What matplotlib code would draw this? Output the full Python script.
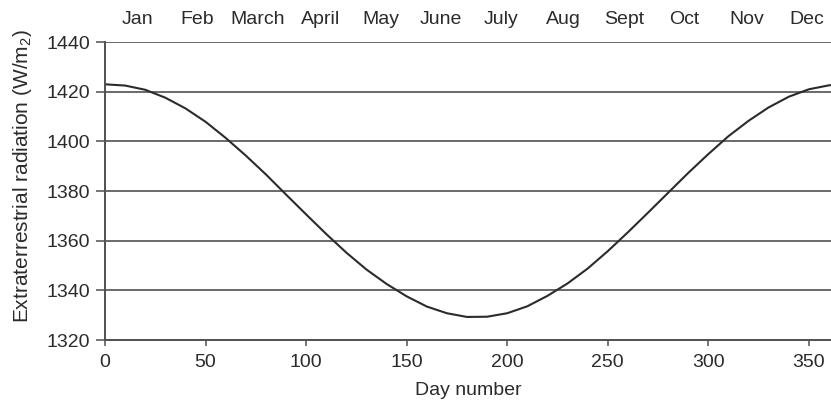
import matplotlib
matplotlib.use("Agg")
import matplotlib.pyplot as plt

plt.rcParams['font.family'] = ['Liberation Sans', 'DejaVu Sans']
plt.rcParams['mathtext.fontset'] = 'custom'
plt.rcParams['mathtext.rm'] = 'Liberation Sans'
plt.rcParams['mathtext.it'] = 'Liberation Sans'

# values
days = [0, 10, 20, 30, 40, 50, 60, 70, 80, 90, 100, 110, 120, 130, 140, 150,
        160, 170, 180, 190, 200, 210, 220, 230, 240, 250, 260, 270, 280, 290,
        300, 310, 320, 330, 340, 350, 360, 365]
radiation = [1423.0, 1422.5, 1420.8, 1417.6, 1413.3, 1407.9, 1401.4, 1394.3,
             1386.7, 1378.6, 1370.6, 1362.7, 1355.2, 1348.4, 1342.6, 1337.6,
             1333.5, 1330.8, 1329.3, 1329.4, 1330.8, 1333.6, 1337.8, 1342.8,
             1348.8, 1355.8, 1363.4, 1371.3, 1379.3, 1387.3, 1394.9, 1402.1,
             1408.3, 1413.7, 1418.0, 1421.0, 1422.6, 1423.0]

month_labels = ['Jan', 'Feb', 'March', 'April', 'May', 'June', 'July',
                'Aug', 'Sept', 'Oct', 'Nov', 'Dec']
month_days = [16, 46, 76, 107, 137, 167, 197, 228, 258, 288, 319, 349]

x_ticks = [0, 50, 100, 150, 200, 250, 300, 350]
y_ticks = [1320, 1340, 1360, 1380, 1400, 1420, 1440]

ink = '#2b2b2b'
rule = '#505050'
fs = 14

fig = plt.figure(figsize=(8.31, 4.01), dpi=100)
ax = fig.add_axes([0.1264, 0.152, 0.8736, 0.743])

for y in y_ticks[1:]:
    ax.axhline(y, color=rule, linewidth=1.2, zorder=1)

ax.plot(days, radiation, color=ink, linewidth=1.5, zorder=2)

ax.set_xlim(0, 361)
ax.set_ylim(1320, 1440)
ax.set_xticks(x_ticks)
ax.set_yticks(y_ticks)

for side in ['top', 'right']:
    ax.spines[side].set_visible(False)
for side in ['left', 'bottom']:
    ax.spines[side].set_color(rule)
    ax.spines[side].set_linewidth(1.4)

ax.tick_params(axis='both', direction='out', width=1.1,
               color=rule, labelsize=fs, labelcolor=ink)
ax.tick_params(axis='x', length=4, pad=6)
ax.tick_params(axis='y', length=6.5, pad=4)

ax.set_xlabel('Day number', fontsize=fs, color=ink, labelpad=8)
ax.set_ylabel('Extraterrestrial radiation (W/m$_2$)', fontsize=15, color=ink)
ax.yaxis.set_label_coords(-0.098, 0.55)

top = ax.twiny()
top.set_xlim(ax.get_xlim())
top.set_xticks(month_days)
top.set_xticklabels(month_labels)
top.tick_params(axis='x', length=0, pad=10, labelsize=fs, labelcolor=ink)
for side in ['top', 'right', 'left', 'bottom']:
    top.spines[side].set_visible(False)

fig.savefig('out.png', dpi=100)
